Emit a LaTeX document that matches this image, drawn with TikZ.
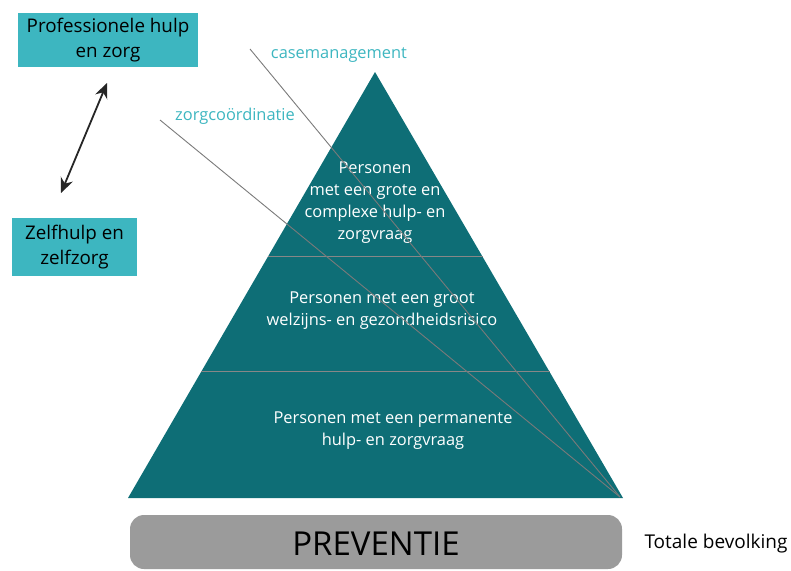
\documentclass[tikz,border=0pt]{standalone}
\usepackage{fontspec}
\setmainfont{Open Sans}
\usetikzlibrary{arrows.meta,calc}
\definecolor{pyramid}{HTML}{0E6E76}
\definecolor{lightteal}{HTML}{3DB6C0}
\definecolor{prevgray}{HTML}{9B9B9B}
\definecolor{linegray}{HTML}{7A7A7A}
\begin{document}
\begin{tikzpicture}[x=1pt, y=-1pt,
    levelbox/.style={text=white, align=center, font=\fontsize{16.4}{22}\selectfont},
    tealbox/.style={fill=lightteal, align=center, font=\fontsize{18.8}{25}\selectfont, inner sep=0pt},
    tag/.style={text=lightteal, font=\fontsize{16.4}{18}\selectfont},
    split/.style={draw=linegray!90, line width=1.1pt},
    guide/.style={draw=linegray, line width=0.9pt},
    bigtip/.tip={Stealth[length=15pt,width=13pt]}]
    \useasboundingbox (0,0) rectangle (791,570);
    % pyramid
    \coordinate (top) at (375,72);
    \coordinate (left) at (128,498);
    \coordinate (right) at (623,498);
    \fill[pyramid] (top) -- (left) -- (right) -- cycle;
    \draw[split] ($(top)!0.434!(left)$) -- ($(top)!0.434!(right)$);
    \draw[split] ($(top)!0.704!(left)$) -- ($(top)!0.704!(right)$);
    \node[levelbox] (high) at (375,203) {Personen\\met een grote en\\complexe hulp- en\\zorgvraag};
    \node[levelbox] (mid) at (382,311) {Personen met een groot\\welzijns- en gezondheidsrisico};
    \node[levelbox] (low) at (393,431) {Personen met een permanente\\hulp- en zorgvraag};
    % guide lines
    \coordinate (cmstart) at (250,49);
    \coordinate (zcstart) at (160,120);
    \coordinate (corner) at (620,497);
    \draw[guide] (cmstart) -- (corner);
    \draw[guide] (zcstart) -- (corner);
    \node[tag] (cm) at (339,55) {casemanagement};
    \node[tag] (zc) at (235,116) {zorgcoördinatie};
    % left boxes
    \node[tealbox, minimum width=180, minimum height=54] (prof) at (108,40) {Professionele hulp\\en zorg};
    \node[tealbox, minimum width=125, minimum height=58] (self) at (74.5,247) {Zelfhulp en\\zelfzorg};
    \coordinate (arrtop) at (107,83);
    \coordinate (arrbot) at (61,193);
    \draw[bigtip-bigtip, line width=1.8pt, black!85] (arrtop) -- (arrbot);
    % bottom
    \fill[prevgray, rounded corners=14pt] (130,515) rectangle (622,569);
    \node[font=\fontsize{33}{38}\selectfont] (prev) at (376,544) {PREVENTIE};
    \node[font=\fontsize{19}{22}\selectfont, anchor=west] (total) at (641,544) {Totale bevolking};
\end{tikzpicture}
\end{document}
